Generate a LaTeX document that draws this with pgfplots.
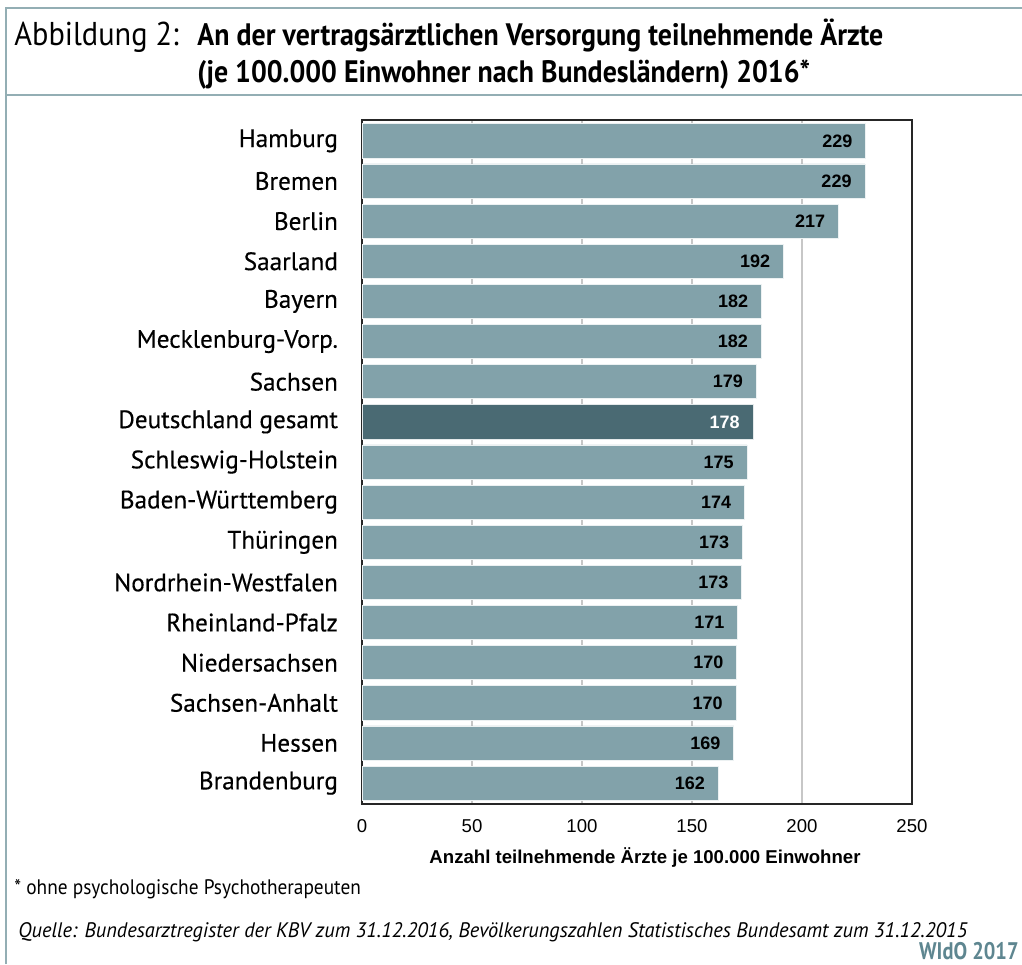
\documentclass[border=0pt]{standalone}
\usepackage{fontspec}
\usepackage{pgfplots}
\pgfplotsset{compat=1.18}
\setmainfont{PT Sans}
\newfontfamily\lab[FakeBold=0.35]{PT Sans}
\newfontfamily\condreg[FakeStretch=0.92]{PT Sans}
\newfontfamily\footreg[FakeStretch=0.92]{PT Sans}
\newfontfamily\condbold[FakeStretch=0.90]{PT Sans Bold}
\newfontfamily\widofont[FakeStretch=0.85]{PT Sans Bold}
\newfontfamily\condit[FakeStretch=0.97]{PT Sans Italic}
\newfontfamily\arial{Liberation Sans}
\definecolor{barc}{HTML}{82A2AA}
\definecolor{bardark}{HTML}{4A6A73}
\definecolor{framec}{HTML}{93AEB4}
\definecolor{wido}{HTML}{5E8690}
\begin{document}
\begin{tikzpicture}
\useasboundingbox (0,0) rectangle (511pt,482pt);
% frame
\draw[framec, line width=1.3pt] (3pt,0) -- (3pt,478pt) -- (511pt,478pt);
\draw[framec, line width=1.3pt] (3pt,434.5pt) -- (511pt,434.5pt);
% title
\node[anchor=base west, inner sep=0pt, font=\condreg\fontsize{16.5}{18}\selectfont] at (7pt,459pt) {Abbildung 2:};
\node[anchor=base west, inner sep=0pt, font=\condbold\fontsize{15.5}{18}\selectfont] at (98.5pt,459pt) {An der vertragsärztlichen Versorgung teilnehmende Ärzte};
\node[anchor=base west, inner sep=0pt, font=\condbold\fontsize{15.5}{18}\selectfont] at (98.5pt,440.5pt) {(je 100.000 Einwohner nach Bundesländern) 2016*};
\begin{axis}[
  at={(181pt,80pt)}, anchor=south west,
  scale only axis, width=275pt, height=342pt,
  xbar, bar width=0.85, bar shift=0pt,
  xmin=0, xmax=250,
  ymin=-0.52, ymax=16.52, y dir=reverse,
  xtick={0,50,100,150,200,250},
  ytick={0,...,16},
  yticklabels={Hamburg,Bremen,Berlin,Saarland,Bayern,Mecklenburg-Vorp.,Sachsen,Deutschland gesamt,Schleswig-Holstein,Baden-Württemberg,Thüringen,Nordrhein-Westfalen,Rheinland-Pfalz,Niedersachsen,Sachsen-Anhalt,Hessen,Brandenburg},
  major tick length=0pt,
  xmajorgrids, ymajorgrids=false,
  grid style={draw=black!22, line width=0.6pt},
  axis line style={draw=black!85, line width=0.8pt},
  /pgf/number format/assume math mode=true,
  xticklabel style={font=\arial\fontsize{9.3}{11}\selectfont, yshift=-4pt},
  yticklabel style={font=\lab\fontsize{12.6}{14}\selectfont, xshift=-8.5pt},
  nodes near coords,
  point meta=explicit symbolic,
  every node near coord/.append style={anchor=east, inner sep=0pt, xshift=-6.5pt, font=\arial\bfseries\fontsize{9}{11}\selectfont, text=black},
]
\addplot[fill=barc, draw=white!85!barc, line width=0.4pt] table[meta=lab] {
x y lab
229 0 229
228.6 1 229
216.6 2 217
191.6 3 192
181.6 4 182
181.5 5 182
179.2 6 179
175.0 8 175
173.9 9 174
173.0 10 173
172.6 11 173
170.8 12 171
170.4 13 170
170.0 14 170
169.0 15 169
161.9 16 162
};
\addplot[fill=bardark, draw=white!85!bardark, line width=0.4pt, every node near coord/.append style={text=white}] table[meta=lab] {
x y lab
177.8 7 178
};
\end{axis}
\node[anchor=base, inner sep=0pt, font=\arial\bfseries\fontsize{9.3}{11}\selectfont] at (322.5pt,50.5pt) {Anzahl teilnehmende Ärzte je 100.000 Einwohner};
\node[anchor=base west, inner sep=0pt, font=\footreg\fontsize{10.5}{12}\selectfont] at (7pt,35pt) {* ohne psychologische Psychotherapeuten};
\node[anchor=base west, inner sep=0pt, font=\condit\fontsize{10.5}{12}\selectfont] at (9pt,13.5pt) {Quelle: Bundesarztregister der KBV zum 31.12.2016, Bevölkerungszahlen Statistisches Bundesamt zum 31.12.2015};
\node[anchor=base east, inner sep=0pt, font=\widofont\fontsize{12}{13}\selectfont, text=wido] at (509.5pt,2.2pt) {WIdO 2017};
\end{tikzpicture}
\end{document}
